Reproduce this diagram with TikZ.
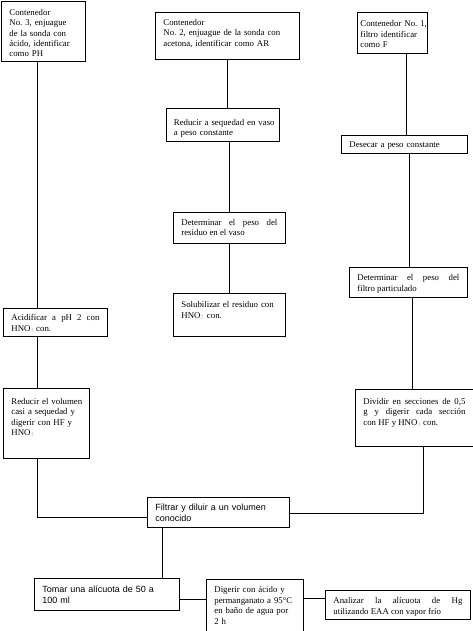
\documentclass[tikz,border=0pt]{standalone}
\usepackage{fontspec}
\setmainfont{Liberation Serif}
\newfontfamily\sansarial{Liberation Sans}
\usepackage{xcolor}
\usepackage{tikz}
\frenchspacing
\newcommand{\letrachica}{\fontsize{8.8}{10.4}\selectfont\hyphenpenalty=10000}
\newcommand{\letrasans}{\sansarial\fontsize{9}{10.6}\selectfont\hyphenpenalty=10000}
\newcommand{\hno}{HNO\textsubscript{\textcolor{black!25}{3}}}
\tikzset{
  caja/.style={draw, line width=.8pt, anchor=north west, inner xsep=8pt, inner ysep=0pt, align=left, font=\letrachica},
  cajaj/.style={caja, align=justify},
  cajas/.style={caja, font=\letrasans},
  linea/.style={line width=.8pt},
}

\begin{document}
\begin{tikzpicture}[x=1pt, y=-1pt]
  \fill[white] (0,0) rectangle (473,631);
  \useasboundingbox (0,0) rectangle (473,631);
  % columnas de las lineas
  \coordinate (colA) at (37,0);
  \coordinate (colB) at (227,0);
  \coordinate (colB2) at (229,0);
  \coordinate (colC) at (406,0);
  \coordinate (colC2) at (409,0);
  \coordinate (colC3) at (412,0);
  \coordinate (colE) at (423,0);
  \coordinate (colD) at (162,0);
  % contenedores
  \node[caja, text width=68pt, text height=14pt, text depth=46pt] (ph) at (1,1) {Contenedor\\No. 3, enjuague\\de la sonda con\\\mbox{ácido, identificar}\\como PH};
  \node[caja, text width=128pt, text height=13pt, text depth=34pt] (ar) at (155,12) {Contenedor\\No. 2, enjuague de la sonda con\\acetona, identificar como AR};
  \node[caja, inner xsep=3pt, text width=64pt, text height=14.5pt, text depth=26.5pt] (f) at (357,12) {\mbox{Contenedor No. 1,}\\filtro identificar\\como F};
  % columna central
  \node[caja, inner xsep=7.5pt, text width=98pt, text height=17pt, text depth=16pt] (seq) at (166,108) {\mbox{Reducir a sequedad en vaso}\\a peso constante};
  \node[cajaj, text width=96pt, text height=13pt, text depth=18pt] (det) at (173,212) {Determinar el peso del\linebreak residuo en el vaso};
  \node[caja, text width=96pt, text height=14.5pt, text depth=28.5pt] (sol) at (173,293) {\mbox{Solubilizar el residuo con}\\\hno{} con.};
  % columna derecha
  \node[caja, text width=110pt, text height=12pt, text depth=6pt] (des) at (341,135) {Desecar a peso constante};
  \node[cajaj, text width=102pt, text height=13.5pt, text depth=16pt] (detf) at (349,267) {Determinar el peso del\linebreak filtro particulado};
  \node[cajaj, text width=102pt, text height=15pt, text depth=41.5pt] (div) at (355,389) {Dividir en secciones de 0,5\linebreak g y digerir cada sección\linebreak con HF y \hno{} con.};
  % columna izquierda
  \node[cajaj, text width=88pt, text height=12.5pt, text depth=15.5pt] (acid) at (3,308) {Acidificar a pH 2 con\linebreak \hno{} con.};
  \node[caja, text width=70pt, text height=16pt, text depth=54pt] (redvol) at (3,388) {\mbox{Reducir el volumen}\\casi a sequedad y\\digerir con HF y\\\hno};
  % parte de abajo
  \node[cajas, text width=126pt, text height=13.5pt, text depth=16.5pt] (filtrar) at (147,497) {Filtrar y diluir a un volumen\\conocido};
  \node[cajas, text width=129pt, text height=14pt, text depth=18pt] (tomar) at (34,578) {Tomar una alícuota de 50 a\\100 ml};
  \node[caja, text width=81pt, text height=13.5pt, text depth=38pt] (dig) at (206,579) {Digerir con ácido y\\permanganato a 95°C\\en baño de agua por\\2 h};
  \node[cajaj, text width=129pt, text height=13.3pt, text depth=16pt] (anal) at (325,590) {Analizar la alícuota de Hg\linebreak utilizando EAA con vapor frío};
  % conexiones
  \draw[linea] (ph.south -| colA) -- (acid.north -| colA);
  \draw[linea] (acid.south -| colA) -- (redvol.north -| colA);
  \draw[linea] (redvol.south -| colA) |- ([yshift=-5pt]filtrar.west);
  \draw[linea] (ar.south -| colB) -- (seq.north -| colB);
  \draw[linea] (seq.south -| colB2) -- (det.north -| colB2);
  \draw[linea] (det.south -| colB2) -- (sol.north -| colB2);
  \draw[linea] (f.south -| colC) -- (des.north -| colC);
  \draw[linea] (des.south -| colC2) -- (detf.north -| colC2);
  \draw[linea] (detf.south -| colC3) -- (div.north -| colC3);
  \draw[linea] (div.south -| colE) |- ([yshift=-1pt]filtrar.east);
  \draw[linea] (filtrar.south -| colD) -- (tomar.north -| colD);
  \draw[linea] ([yshift=-4.5pt]tomar.east) -- ([yshift=-4.5pt]tomar.east -| dig.west);
  \draw[linea] ([yshift=6.5pt]dig.east) -- ([yshift=6.5pt]dig.east -| anal.west);
\end{tikzpicture}
\end{document}
